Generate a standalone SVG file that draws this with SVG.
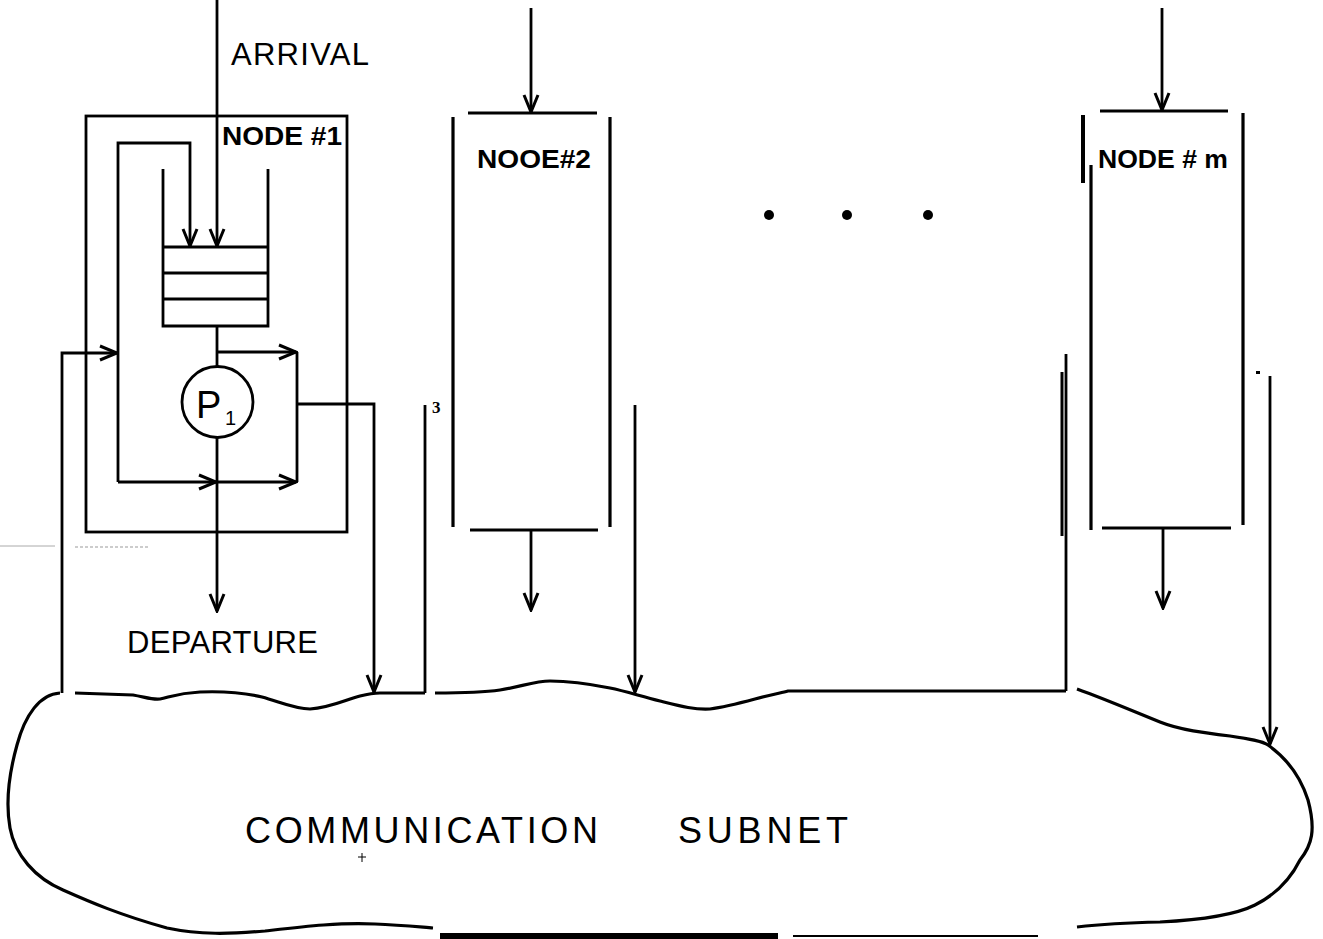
<svg xmlns="http://www.w3.org/2000/svg" width="1323" height="939" viewBox="0 0 1323 939">
<style>
.ln{fill:none;stroke:#000;stroke-width:2.8;stroke-linejoin:miter;stroke-linecap:butt}
.th{fill:none;stroke:#000;stroke-width:3.2}
.lbl{font-family:"Liberation Sans",Arial,sans-serif;fill:#000}
.b{font-weight:bold}
</style>
<defs>
<marker id="arr" viewBox="-20 -10 22 20" markerWidth="22" markerHeight="20" refX="0" refY="0" orient="auto" markerUnits="userSpaceOnUse">
<path d="M-17,-7 L0,0 L-17,7" fill="none" stroke="#000" stroke-width="3"/>
</marker>
</defs>
<rect width="1323" height="939" fill="#fff"/>

<g id="node1">
<rect class="ln" x="86" y="116" width="261" height="416"/>
<text class="lbl b" x="222" y="145" font-size="25" textLength="120" lengthAdjust="spacingAndGlyphs">NODE #1</text>
<path class="ln" d="M163,169 V326 H268 V169"/>
<path class="ln" d="M163,247 H268 M163,273 H268 M163,299 H268"/>
<circle class="ln" cx="217.5" cy="402" r="35.5"/>
<text class="lbl" x="196" y="418" font-size="38">P</text>
<text class="lbl" x="225" y="425" font-size="20">1</text>
</g>

<g id="node2">
<path class="th" d="M468,113 H597 M453,117 V527 M610,117 V527 M470,530 H598"/>
<text class="lbl b" x="477" y="168" font-size="25" textLength="114" lengthAdjust="spacingAndGlyphs">NOOE#2</text>
</g>

<g id="nodem">
<path class="th" d="M1100,111 H1228 M1091,165 V530 M1243,113 V525 M1102,528 H1231"/>
<path fill="none" stroke="#000" stroke-width="4" d="M1083,115 V183"/>
<text class="lbl b" x="1098" y="168" font-size="25" textLength="130" lengthAdjust="spacingAndGlyphs">NODE # m</text>
</g>

<g id="dots">
<circle cx="769" cy="215" r="5"/>
<circle cx="847" cy="215" r="5"/>
<circle cx="928" cy="215" r="5"/>
</g>

<g id="subnet">
<path class="th" d="M60,693 C40,694 25,715 17,745 C10,770 5,800 10,828 C15,855 35,878 63,890 C90,902 120,915 167,928 C200,935 230,934 265,931 C300,927 340,922 375,924 C400,925 420,927 433,928"/>
<path class="th" d="M75,693 L133,695 C145,697 152,700 160,699 C170,697 178,693 200,692 C225,691 245,693 262,697 C280,702 295,709 310,709 C330,708 345,700 360,696 C368,694 373,693 380,693 L425,693"/>
<path class="th" d="M435,693 C460,693 480,693 500,690 C520,687 535,681 550,681 C570,681 590,684 610,688 C625,691 640,696 660,701 C680,706 695,710 710,709 C725,707 740,703 755,699 C770,695 780,693 788,691 L1066,691"/>
<path class="th" d="M1077,689 C1105,699 1135,712 1160,722 C1180,730 1205,733 1230,736 C1250,739 1262,741 1268,745 C1285,757 1300,775 1308,800 C1316,830 1312,845 1300,860 C1290,880 1275,895 1255,905 C1235,915 1200,920 1160,922 C1120,923 1095,925 1077,927"/>
<rect x="440" y="933" width="338" height="6" fill="#000"/>
<path fill="none" stroke="#000" stroke-width="2" d="M793,936 H1038"/>
<text class="lbl" x="245" y="843" font-size="36" textLength="353">COMMUNICATION</text>
<text class="lbl" x="678" y="843" font-size="36" textLength="170">SUBNET</text>
<path fill="none" stroke="#000" stroke-width="1" d="M358,857 H366 M362,853 V862"/>
</g>

<g id="connectors">
<path class="ln" d="M217,0 V246" marker-end="url(#arr)"/>
<path class="ln" d="M118,482 V143 H190 V246" marker-end="url(#arr)"/>
<path class="ln" d="M217,326 V366.5"/>
<path class="ln" d="M217,352 H296" marker-end="url(#arr)"/>
<path class="ln" d="M297,352 V482"/>
<path class="ln" d="M118,482 H216" marker-end="url(#arr)"/>
<path class="ln" d="M216,482 H296" marker-end="url(#arr)"/>
<path class="ln" d="M62,693 V353 H117" marker-end="url(#arr)"/>
<path class="ln" d="M297,404 H374 V692" marker-end="url(#arr)"/>
<path class="ln" d="M217,437.5 V611" marker-end="url(#arr)"/>
<path class="ln" d="M425,405 V693"/>
<path class="ln" d="M531,8 V112" marker-end="url(#arr)"/>
<path class="ln" d="M531,530 V610" marker-end="url(#arr)"/>
<path class="ln" d="M635,405 V692" marker-end="url(#arr)"/>
<path class="ln" d="M1162,8 V110" marker-end="url(#arr)"/>
<path class="ln" d="M1163,528 V608" marker-end="url(#arr)"/>
<path class="ln" d="M1270,376 V744" marker-end="url(#arr)"/>
<path class="ln" d="M1066,354 V691"/>
<path fill="none" stroke="#000" stroke-width="3" d="M1062,372 V536"/>
<rect x="1256" y="371" width="4" height="3" fill="#000"/>
</g>

<text class="lbl" x="231" y="65" font-size="31" textLength="138">ARRIVAL</text>
<text class="lbl" x="127" y="653" font-size="31" textLength="191">DEPARTURE</text>
<text x="432" y="413" font-family="Liberation Serif,serif" font-weight="bold" font-size="17">3</text>
<path fill="none" stroke="#999" stroke-width="1" stroke-dasharray="3,2" d="M75,547 H150"/>
<path fill="none" stroke="#aaa" stroke-width="1" d="M0,546 H55"/>
</svg>
